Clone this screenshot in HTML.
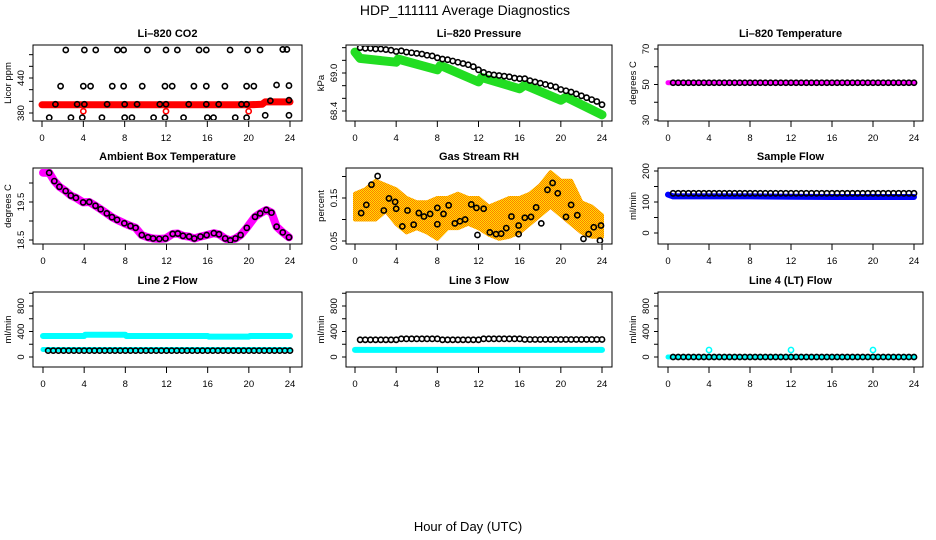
<!DOCTYPE html>
<html><head><meta charset="utf-8"><title>HDP_111111 Average Diagnostics</title>
<style>
html,body{margin:0;padding:0;background:#fff;}
svg{display:block;font-family:"Liberation Sans",Arial,sans-serif;}
</style></head>
<body>
<svg id="chart" width="936" height="540" viewBox="0 0 936 540" xmlns="http://www.w3.org/2000/svg">
<text x="465" y="15" font-size="14" text-anchor="middle">HDP_111111  Average Diagnostics</text>
<text x="468" y="531" font-size="13" text-anchor="middle">Hour of Day (UTC)</text>
</svg>
<script>
// shared
const xTicks = [0,4,8,12,16,20,24];
const halfHours = [0.5,1,1.5,2,2.5,3,3.5,4,4.5,5,5.5,6,6.5,7,7.5,8,8.5,9,9.5,10,10.5,11,11.5,12,12.5,13,13.5,14,14.5,15,15.5,16,16.5,17,17.5,18,18.5,19,19.5,20,20.5,21,21.5,22,22.5,23,23.5,24];

// CO2
const co2BlackHours = [2.3,4.1,5.2,7.3,7.9,10.2,12.0,13.1,15.2,15.9,18.2,19.9,21.1,23.3,23.7, 1.8,4.0,4.7,6.8,7.9,9.7,11.9,12.6,14.7,15.9,17.7,19.8,20.5,22.7,23.9, 1.3,3.4,4.1,6.3,8.0,9.2,11.4,12.0,14.2,15.9,17.1,19.3,19.8,22.1,23.9, 0.7,2.8,3.9,5.8,8.0,8.7,10.8,11.9,13.7,16.0,16.6,18.7,19.8,21.6,23.9];
const co2BlackVals = [488,488,488,488,488,488,488,488,488,488,488,488,488,489,489, 426,426,426,426,426,426,426,426,426,426,426,426,426,428,427, 395,395,395,395,395,395,395,395,395,395,395,395,395,401,402, 372,372,372,372,372,372,372,372,372,372,372,372,372,376,376];
const co2RedHours = [0,4,8,12,16,20,21.3,21.6,24];
const co2RedVals = [394,394,394,394,394,394,395,399,399];
const co2RedOutHours = [4,12,20];
const co2RedOutVals = [383,383,383];

// Pressure
const presBlackVals = [69.40,69.39,69.39,69.38,69.38,69.37,69.36,69.34,69.35,69.33,69.32,69.31,69.30,69.28,69.27,69.24,69.22,69.21,69.19,69.17,69.15,69.13,69.10,69.05,69.01,68.98,68.97,68.96,68.95,68.94,68.92,68.91,68.91,68.88,68.86,68.84,68.82,68.80,68.78,68.74,68.72,68.70,68.67,68.64,68.61,68.58,68.55,68.50];
const presGreenHours = [0,0.5,4,4.2,8,8.3,12,12.3,16,16.5,20,20.5,24];
const presGreenVals = [69.33,69.23,69.17,69.22,69.05,69.12,68.86,68.93,68.75,68.81,68.57,68.62,68.34];

// Li-820 temperature
const tempBlackVals = [51,51,51,51,51,51,51,51,51,51,51,51,51,51,51,51,51,51,51,51,51,51,51,51,51,51,51,51,51,51,51,51,51,51,51,51,51,51,51,51,51,51,51,51,51,51,51,51];
const tempMagHours = [0,24];
const tempMagVals = [51,51];

// Ambient box temperature
const ambHours = [0.6,1.1,1.6,2.2,2.7,3.2,3.9,4.5,5.1,5.6,6.2,6.7,7.2,7.9,8.5,9.0,9.6,10.2,10.7,11.3,11.9,12.6,13.1,13.6,14.2,14.7,15.3,15.9,16.6,17.1,17.7,18.2,18.7,19.2,19.8,20.6,21.1,21.7,22.2,22.7,23.3,23.9];
const ambVals = [20.27,20.05,19.90,19.79,19.67,19.61,19.49,19.50,19.40,19.31,19.20,19.10,19.03,18.94,18.87,18.82,18.63,18.57,18.54,18.53,18.54,18.66,18.67,18.61,18.59,18.54,18.59,18.63,18.68,18.65,18.54,18.49,18.54,18.63,18.82,19.11,19.20,19.29,19.22,18.85,18.70,18.57];
const ambMagHours = [0,0.6,1.1,1.6,2.2,2.7,3.2,3.9,4.5,5.1,5.6,6.2,6.7,7.2,7.9,8.5,9.0,9.6,10.2,10.7,11.3,11.9,12.6,13.1,13.6,14.2,14.7,15.3,15.9,16.6,17.1,17.7,18.2,18.7,19.2,19.8,20.6,21.1,21.7,22.2,22.7,23.3,23.9];
const ambMagVals = [20.27,20.27,20.05,19.90,19.79,19.67,19.61,19.49,19.50,19.40,19.31,19.20,19.10,19.03,18.94,18.87,18.82,18.63,18.57,18.54,18.53,18.54,18.66,18.67,18.61,18.59,18.54,18.59,18.63,18.68,18.65,18.54,18.49,18.54,18.63,18.82,19.11,19.20,19.29,19.22,18.85,18.70,18.57];

// Gas stream RH
const rhHours = [0.6,1.1,1.6,2.2,2.8,3.3,3.9,4.0,4.6,5.1,5.7,6.2,6.7,7.3,8.0,8.0,8.6,9.1,9.7,10.2,10.7,11.3,11.8,11.9,12.5,13.1,13.7,14.2,14.7,15.2,15.9,15.9,16.5,17.1,17.6,18.1,18.7,19.2,19.7,20.5,21.0,21.6,22.2,22.7,23.2,23.9,23.8];
const rhVals = [0.115,0.134,0.181,0.201,0.121,0.149,0.141,0.125,0.084,0.121,0.088,0.115,0.107,0.113,0.127,0.089,0.113,0.133,0.091,0.096,0.100,0.135,0.127,0.064,0.125,0.070,0.066,0.067,0.080,0.107,0.086,0.066,0.104,0.106,0.128,0.091,0.169,0.185,0.161,0.106,0.134,0.110,0.055,0.066,0.082,0.086,0.051];
const rhBandHours = [0,1,2,3,4,5,6,7,8,9,10,11,12,13,14,15,16,17,18,19,20,21,22,23,24];
const rhBandLow = [0.10,0.10,0.10,0.12,0.09,0.07,0.08,0.07,0.055,0.08,0.08,0.09,0.08,0.065,0.055,0.06,0.07,0.09,0.11,0.13,0.11,0.09,0.07,0.06,0.06];
const rhBandHigh = [0.16,0.17,0.19,0.18,0.17,0.15,0.14,0.14,0.15,0.15,0.16,0.15,0.15,0.13,0.14,0.15,0.15,0.16,0.18,0.21,0.19,0.19,0.14,0.13,0.11];

// Sample flow
const sampleBlackVals = [128,128,128,128,128,128,128,128,128,128,128,128,128,128,128,128,128,128,128,128,128,128,128,128,128,128,128,128,128,128,128,128,128,128,128,128,128,128,128,128,128,128,128,128,128,128,128,128];
const sampleBlueHours = [0,0.5,4,8,12,16,20,24];
const sampleBlueVals = [124,118,118,118,117,116,116,116];

// Line 2 flow
const l2BlackVals = [100,100,100,100,100,100,100,100,100,100,100,100,100,100,100,100,100,100,100,100,100,100,100,100,100,100,100,100,100,100,100,100,100,100,100,100,100,100,100,100,100,100,100,100,100,100,100,100];
const l2CyanHiHours = [0,4,4.1,8,8.1,12,12.1,16,16.1,20,20.1,24];
const l2CyanHiVals = [330,330,350,350,330,330,330,330,320,320,330,330];
const l2CyanLoHours = [0,24];
const l2CyanLoVals = [118,118];

// Line 3 flow
const l3BlackVals = [270,270,270,270,270,270,270,270,285,285,285,285,285,285,285,285,270,270,270,270,270,270,270,270,285,285,285,285,285,285,285,285,275,275,275,275,275,275,275,275,275,275,275,275,275,275,275,275];
const l3CyanHours = [0,24];
const l3CyanVals = [112,112];

// Line 4 flow
const l4BlackVals = [0,0,0,0,0,0,0,0,0,0,0,0,0,0,0,0,0,0,0,0,0,0,0,0,0,0,0,0,0,0,0,0,0,0,0,0,0,0,0,0,0,0,0,0,0,0,0,0];
const l4CyanHours = [0,24];
const l4CyanVals = [0,0];
const l4CyanOutHours = [4,12,20];
const l4CyanOutVals = [110,110,110];

const NS = "http://www.w3.org/2000/svg";
const svg = document.getElementById('chart');
function mk(tag, attrs, parent){
  const e = document.createElementNS(NS, tag);
  for (const k in attrs) e.setAttribute(k, attrs[k]);
  (parent||svg).appendChild(e);
  return e;
}
function makePanel(p){
  const g = mk('g', {});
  
  
  const sx = h => p.x0 + (p.x24 - p.x0) * h / 24;
  const sy = v => p.p1 + (v - p.v1) * (p.p2 - p.p1) / (p.v2 - p.v1);
  const t = mk('text', {x:(p.l+p.r)/2, y:p.t-8, 'font-size':11, 'font-weight':'bold', 'text-anchor':'middle'}, g);
  t.textContent = p.title;
  
  
  const box = mk('rect', {x:p.l, y:p.t, width:p.r-p.l, height:p.b-p.t, fill:'none', stroke:'#000', 'stroke-width':1}, g);
  
  
  xTicks.forEach(h => {
    mk('line', {x1:sx(h), x2:sx(h), y1:p.b, y2:p.b+6, stroke:'#000'}, g);
    const tx = mk('text', {x:sx(h), y:p.b+20, 'font-size':9.5, 'text-anchor':'middle'}, g);
    tx.textContent = h;
    
    
  });
  p.yticks.forEach(v => { mk('line', {x1:p.l-4, x2:p.l, y1:sy(v), y2:sy(v), stroke:'#000'}, g); });
  p.ylabels.forEach(v => {
    const y = sy(v), x = p.l - 9;
    const ty = mk('text', {x:x, y:y, 'font-size':9.5, 'text-anchor':'middle', transform:'rotate(-90 '+x+' '+y+')'}, g);
    ty.textContent = v.toFixed(p.dec);
    
    
  });
  const yt = p.l - 22, ym = (p.t+p.b)/2;
  const tt = mk('text', {x:yt, y:ym, 'font-size':9.5, 'text-anchor':'middle', transform:'rotate(-90 '+yt+' '+ym+')'}, g);
  tt.textContent = p.ytitle;
  
  
  const clipId = 'c'+Math.round(p.l)+'_'+Math.round(p.t);
  const cp = mk('clipPath', {id:clipId}, g);
  mk('rect', {x:p.l+1, y:p.t+1, width:p.r-p.l-2, height:p.b-p.t-2}, cp);
  const dg = mk('g', {'clip-path':'url(#'+clipId+')'}, g);
  return {g:dg, sx, sy};
}
function band(P, hours, vals, color, w, name){
  const pts = hours.map((h,i) => P.sx(h).toFixed(1)+','+P.sy(vals[i]).toFixed(1)).join(' ');
  const pl = mk('polyline', {points:pts, fill:'none', stroke:color, 'stroke-width':w, 'stroke-linejoin':'round', 'stroke-linecap':'round'}, P.g);
  
  
}
function circles(P, hours, vals, color, name, r){
  hours.forEach((h,i) => {
    const c = mk('circle', {cx:P.sx(h), cy:P.sy(vals[i]), r:r||2.6, fill:'none', stroke:color, 'stroke-width':1.6}, P.g);
    
    
  });
}

// Panel 1
let P = makePanel({name:'co2-panel', title:'Li\u2013820 CO2', ytitle:'Licor ppm', l:33,t:45,r:302,b:121, x0:42,x24:290, v1:380,p1:113,v2:440,p2:78, yticks:[380,400,420,440,460,480], ylabels:[380,440], dec:0});
band(P, co2RedHours, co2RedVals, '#ff0000', 7, 'co2-red-series');
circles(P, co2RedOutHours, co2RedOutVals, '#ff0000', 'co2-red-outlier');
circles(P, co2BlackHours, co2BlackVals, '#000', 'co2-point');

// Panel 2
P = makePanel({name:'pressure-panel', title:'Li\u2013820 Pressure', ytitle:'kPa', l:346,t:45,r:612,b:121, x0:355,x24:602, v1:68.4,p1:111,v2:69.0,p2:73, yticks:[68.4,68.6,68.8,69.0,69.2,69.4], ylabels:[68.4,69.0], dec:1});
band(P, presGreenHours, presGreenVals, '#22dd22', 9, 'pressure-green-series');
circles(P, halfHours, presBlackVals, '#000', 'pressure-point');

// Panel 3
P = makePanel({name:'li820-temperature-panel', title:'Li\u2013820 Temperature', ytitle:'degrees C', l:658,t:45,r:923,b:121, x0:668,x24:914, v1:30,p1:120,v2:70,p2:49, yticks:[30,40,50,60,70], ylabels:[30,50,70], dec:0});
band(P, tempMagHours, tempMagVals, '#ff00ff', 5, 'temperature-magenta-series');
circles(P, halfHours, tempBlackVals, '#000', 'temperature-point');

// Panel 4
P = makePanel({name:'ambient-temperature-panel', title:'Ambient Box Temperature', ytitle:'degrees C', l:33,t:168,r:302,b:244, x0:43,x24:290, v1:18.5,p1:240,v2:19.5,p2:202, yticks:[18.5,19.0,19.5,20.0], ylabels:[18.5,19.5], dec:1});
band(P, ambMagHours, ambMagVals, '#ff00ff', 8, 'ambient-magenta-series');
circles(P, ambHours, ambVals, '#000', 'ambient-point');

// Panel 5
P = makePanel({name:'gas-rh-panel', title:'Gas Stream RH', ytitle:'percent', l:346,t:168,r:612,b:244, x0:355,x24:602, v1:0.05,p1:241,v2:0.15,p2:198, yticks:[0.05,0.10,0.15,0.20], ylabels:[0.05,0.15], dec:2});
(function(){
  const defs = mk('defs', {}, svg);
  const pat = mk('pattern', {id:'rhpat', width:2, height:2, patternUnits:'userSpaceOnUse'}, defs);
  mk('rect', {width:2, height:2, fill:'#ffe000'}, pat);
  mk('rect', {width:1, height:1, fill:'#ff7a00'}, pat);
  mk('rect', {x:1, y:1, width:1, height:1, fill:'#ff7a00'}, pat);
  const up = rhBandHours.map((h,i) => P.sx(h).toFixed(1)+','+P.sy(rhBandHigh[i]).toFixed(1));
  const dn = rhBandHours.map((h,i) => P.sx(h).toFixed(1)+','+P.sy(rhBandLow[i]).toFixed(1)).reverse();
  const poly = mk('polygon', {points:up.concat(dn).join(' '), fill:'url(#rhpat)', stroke:'url(#rhpat)', 'stroke-width':4, 'stroke-linejoin':'round'}, P.g);
  
  
})();
circles(P, rhHours, rhVals, '#000', 'rh-point');

// Panel 6
P = makePanel({name:'sample-flow-panel', title:'Sample Flow', ytitle:'ml/min', l:658,t:168,r:923,b:244, x0:668,x24:914, v1:0,p1:233,v2:200,p2:171, yticks:[0,50,100,150,200], ylabels:[0,100,200], dec:0});
band(P, sampleBlueHours, sampleBlueVals, '#0000ff', 6, 'sample-blue-series');
circles(P, halfHours, sampleBlackVals, '#000', 'sample-point');

// Panel 7
P = makePanel({name:'line2-flow-panel', title:'Line 2 Flow', ytitle:'ml/min', l:33,t:292,r:302,b:367, x0:43,x24:290, v1:0,p1:357,v2:800,p2:306, yticks:[0,200,400,600,800,1000], ylabels:[0,400,800], dec:0});
band(P, l2CyanHiHours, l2CyanHiVals, '#00ffff', 6, 'line2-cyan-high');
band(P, l2CyanLoHours, l2CyanLoVals, '#00ffff', 5, 'line2-cyan-low');
circles(P, halfHours, l2BlackVals, '#000', 'line2-point');

// Panel 8
P = makePanel({name:'line3-flow-panel', title:'Line 3 Flow', ytitle:'ml/min', l:346,t:292,r:612,b:367, x0:355,x24:602, v1:0,p1:357,v2:800,p2:306, yticks:[0,200,400,600,800,1000], ylabels:[0,400,800], dec:0});
band(P, l3CyanHours, l3CyanVals, '#00ffff', 6, 'line3-cyan-series');
circles(P, halfHours, l3BlackVals, '#000', 'line3-point');

// Panel 9
P = makePanel({name:'line4-flow-panel', title:'Line 4 (LT) Flow', ytitle:'ml/min', l:658,t:292,r:923,b:367, x0:668,x24:914, v1:0,p1:357,v2:800,p2:306, yticks:[0,200,400,600,800,1000], ylabels:[0,400,800], dec:0});
band(P, l4CyanHours, l4CyanVals, '#00ffff', 5, 'line4-cyan-series');
circles(P, l4CyanOutHours, l4CyanOutVals, '#00ffff', 'line4-cyan-outlier');
circles(P, halfHours, l4BlackVals, '#000', 'line4-point');
</script>
</body></html>
